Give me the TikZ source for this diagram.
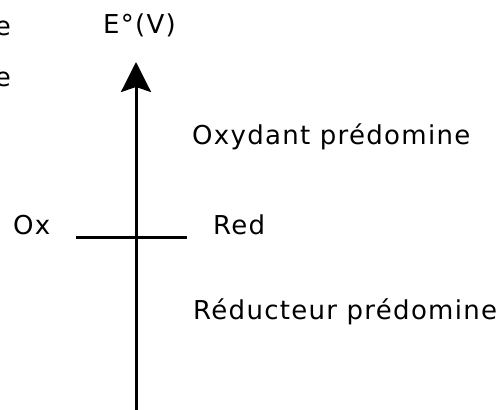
\documentclass[tikz,border=0pt]{standalone}
\usepackage{fontspec}
\setmainfont{DejaVu Sans}[LetterSpace=5]
\usetikzlibrary{arrows.meta}
\begin{document}
\begin{tikzpicture}[x=1pt,y=1pt,
  lbl/.style={inner sep=0pt,anchor=base west,font=\fontsize{26}{30}\selectfont},
  axisline/.style={line width=3pt,-{Stealth[length=30pt,width=30pt,inset=5pt]}},
  tickline/.style={line width=3pt}]
\useasboundingbox (0,0) rectangle (504,410);
\coordinate (bot) at (136,0);
\coordinate (top) at (136,348);
\coordinate (hl) at (76,172);
\coordinate (hr) at (187,172);
\draw[axisline] (bot) -- (top);
\draw[tickline] (hl) -- (hr);
\node[lbl] (ev) at (103,376) {E°(V)};
\node[lbl] (ox) at (13,175) {Ox};
\node[lbl] (red) at (213,175) {Red};
\node[lbl] (oxp) at (192,265) {Oxydant prédomine};
\node[lbl] (redp) at (193,90) {Réducteur prédomine};
\node[lbl,anchor=base east] (e1) at (11,374) {e};
\node[lbl,anchor=base east] (e2) at (11,323) {e};
\end{tikzpicture}
\end{document}
